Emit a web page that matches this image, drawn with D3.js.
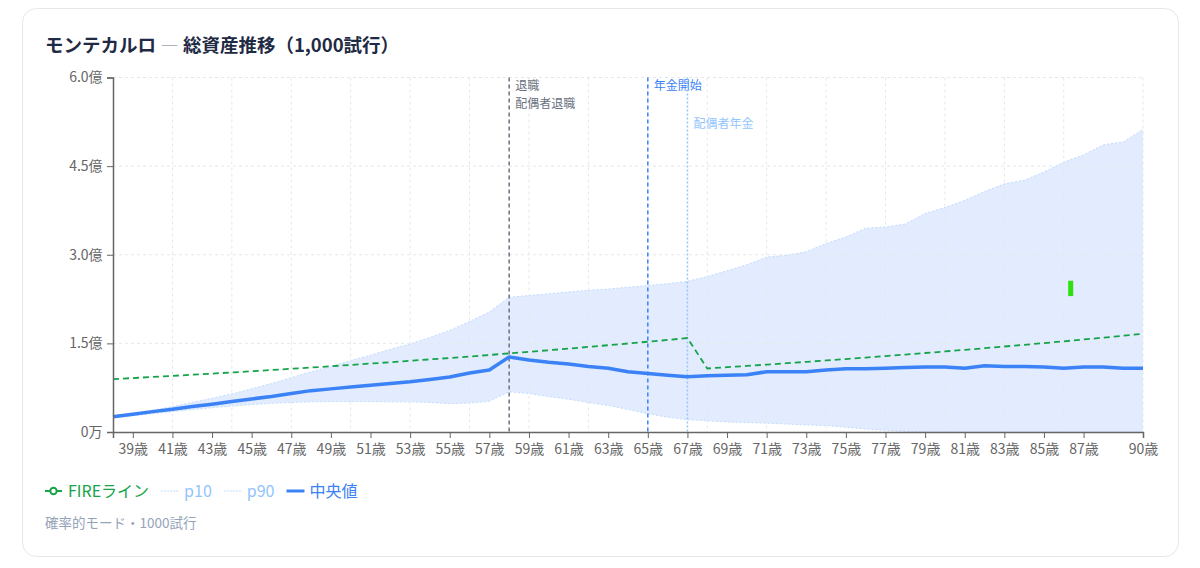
<!DOCTYPE html>
<html lang="ja">
<head>
  <meta charset="UTF-8">
  <title>モンテカルロ — 総資産推移</title>
  <script src="https://d3js.org/d3.v7.min.js"></script>
  <style>
    body
    {
      margin: 0;
      background: #ffffff;
      font-family: "Noto Sans CJK JP", "Noto Sans", sans-serif;
    }
    svg
    {
      display: block;
      font-family: "Noto Sans CJK JP", "Noto Sans", sans-serif;
    }
  </style>
</head>
<body>
  <svg id="chart" width="1200" height="568"></svg>
  <script>
    // ages (category axis)
    const ages = [38, 39, 40, 41, 42, 43, 44, 45, 46, 47, 48, 49, 50, 51, 52, 53, 54, 55,
      56, 57, 58, 59, 60, 61, 62, 63, 64, 65, 66, 67, 68, 69, 70, 71, 72, 73, 74, 75,
      76, 77, 78, 79, 80, 81, 82, 83, 84, 85, 86, 87, 88, 89, 90];

    // values in 億円
    const median = [0.26, 0.30, 0.345, 0.385, 0.43, 0.47, 0.515, 0.56, 0.60, 0.65, 0.70, 0.73,
      0.76, 0.79, 0.82, 0.85, 0.89, 0.93, 1.00, 1.05, 1.27, 1.22, 1.18, 1.15, 1.11, 1.08,
      1.02, 0.99, 0.96, 0.935, 0.95, 0.96, 0.97, 1.02, 1.02, 1.02, 1.05, 1.07, 1.07, 1.08,
      1.09, 1.10, 1.10, 1.08, 1.12, 1.11, 1.11, 1.10, 1.08, 1.10, 1.10, 1.08, 1.08];

    const p10 = [0.24, 0.275, 0.31, 0.345, 0.38, 0.41, 0.44, 0.465, 0.485, 0.50, 0.51, 0.515,
      0.515, 0.515, 0.51, 0.51, 0.50, 0.48, 0.49, 0.52, 0.68, 0.65, 0.60, 0.555, 0.50, 0.45,
      0.38, 0.31, 0.25, 0.21, 0.19, 0.17, 0.16, 0.15, 0.135, 0.12, 0.11, 0.08, 0.05, 0.03,
      0.01, 0, 0, 0, 0, 0, 0, 0, 0, 0, 0, 0, 0];

    const p90 = [0.28, 0.32, 0.37, 0.43, 0.50, 0.57, 0.645, 0.73, 0.82, 0.92, 1.02, 1.11,
      1.21, 1.30, 1.40, 1.49, 1.60, 1.72, 1.87, 2.03, 2.28, 2.31, 2.34, 2.37, 2.40, 2.42,
      2.45, 2.48, 2.51, 2.55, 2.63, 2.73, 2.83, 2.96, 2.99, 3.05, 3.19, 3.30, 3.45, 3.47,
      3.52, 3.70, 3.80, 3.92, 4.07, 4.20, 4.26, 4.40, 4.57, 4.69, 4.86, 4.91, 5.12];

    const fireLine = [0.895, 0.913, 0.931, 0.950, 0.969, 0.988, 1.008, 1.028, 1.049, 1.070,
      1.091, 1.113, 1.135, 1.158, 1.181, 1.205, 1.229, 1.253, 1.278, 1.304, 1.330, 1.357,
      1.384, 1.411, 1.440, 1.469, 1.498, 1.528, 1.558, 1.590, 1.075, 1.097, 1.118, 1.141,
      1.164, 1.187, 1.211, 1.235, 1.260, 1.285, 1.310, 1.337, 1.363, 1.391, 1.418, 1.447,
      1.476, 1.505, 1.535, 1.566, 1.597, 1.629, 1.662];

    const xTickAges = [39, 41, 43, 45, 47, 49, 51, 53, 55, 57, 59, 61, 63, 65, 67, 69, 71,
      73, 75, 77, 79, 81, 83, 85, 87, 90];
    const gridAges = [41, 44, 47, 50, 53, 56, 59, 62, 65, 68, 71, 74, 77, 80, 83, 86, 90];
    const yTicks = [0, 1.5, 3.0, 4.5, 6.0];
    const yTickLabels = ["0万", "1.5億", "3.0億", "4.5億", "6.0億"];

    const refLines = [
      { age: 58, labels: ["退職", "配偶者退職"], color: "#6b7280", dash: "4 3", dy: 0 },
      { age: 65, labels: ["年金開始"], color: "#3b82f6", dash: "4 3", dy: 0 },
      { age: 67, labels: ["配偶者年金"], color: "#93c5fd", dash: "2 2", dy: 38 }
    ];

    // stray green mark seen in the picture
    const stray = [{ age: 86.35, lo: 2.30, hi: 2.56 }];

    const legendItems = [
      { name: "FIREライン", color: "#16a34a", type: "fire" },
      { name: "p10", color: "#93c5fd", type: "dot" },
      { name: "p90", color: "#93c5fd", type: "dot" },
      { name: "中央値", color: "#3b82f6", type: "solid" }
    ];

    const rows = ages.map((a, i) => ({ age: a, median: median[i], p10: p10[i], p90: p90[i], fire: fireLine[i] }));

    const svg = d3.select("#chart");

    // card
    svg.append("rect")
      .attr("x", 22.5).attr("y", 8.5)
      .attr("width", 1156).attr("height", 548)
      .attr("rx", 14)
      .attr("fill", "#fff")
      .attr("stroke", "#e5e7eb");

    // title
    const title = svg.append("text")
      .attr("x", 45).attr("y", 52)
      .attr("font-size", 18.5).attr("font-weight", 700)
      .attr("fill", "#1f2a44");
    title.append("tspan").text("モンテカルロ ");
    title.append("tspan").attr("fill", "#9ca3af").attr("font-weight", 400).text("—");
    title.append("tspan").text(" 総資産推移（1,000試行）");

    const x = d3.scaleLinear().domain([38, 90]).range([113, 1143]);
    const y = d3.scaleLinear().domain([0, 6]).range([432, 77.5]);

    // grid
    const grid = svg.append("g").attr("stroke", "#e5e7eb").attr("stroke-dasharray", "3 3");
    grid.selectAll("line.h")
      .data(yTicks.slice(1))
      .join("line")
      .attr("class", "h")
      .attr("x1", x(38)).attr("x2", x(90))
      .attr("y1", d => y(d)).attr("y2", d => y(d));
    grid.selectAll("line.v")
      .data(gridAges)
      .join("line")
      .attr("class", "v")
      .attr("x1", d => x(d)).attr("x2", d => x(d))
      .attr("y1", y(6)).attr("y2", y(0));

    // band p10-p90
    const band = d3.area()
      .x(d => x(d.age))
      .y0(d => y(d.p10))
      .y1(d => y(d.p90));
    svg.append("path")
      .datum(rows)
      .attr("d", band)
      .attr("fill", "#3b82f6")
      .attr("fill-opacity", 0.15);

    ["p10", "p90"].forEach(k => {
      svg.append("path")
        .datum(rows)
        .attr("d", d3.line().x(d => x(d.age)).y(d => y(d[k])))
        .attr("fill", "none")
        .attr("stroke", "#bfdbfe")
        .attr("stroke-width", 1)
        .attr("stroke-dasharray", "2 2");
    });

    // grid shows through the band
    grid.raise();

    // reference lines
    refLines.forEach(r => {
      svg.append("line")
        .attr("x1", x(r.age)).attr("x2", x(r.age))
        .attr("y1", y(6)).attr("y2", y(0))
        .attr("stroke", r.color)
        .attr("stroke-width", 1.5)
        .attr("stroke-dasharray", r.dash);
      r.labels.forEach((t, i) => {
        svg.append("text")
          .attr("x", x(r.age) + 6)
          .attr("y", 90 + r.dy + i * 17.5)
          .attr("font-size", 12)
          .attr("fill", r.color)
          .text(t);
      });
    });

    // FIRE line
    svg.append("path")
      .datum(rows)
      .attr("d", d3.line().x(d => x(d.age)).y(d => y(d.fire)))
      .attr("fill", "none")
      .attr("stroke", "#16a34a")
      .attr("stroke-width", 1.8)
      .attr("stroke-dasharray", "6 4");

    // median
    svg.append("path")
      .datum(rows)
      .attr("d", d3.line().x(d => x(d.age)).y(d => y(d.median)))
      .attr("fill", "none")
      .attr("stroke", "#3b82f6")
      .attr("stroke-width", 3.5)
      .attr("stroke-linejoin", "round");

    svg.selectAll("rect.stray")
      .data(stray)
      .join("rect")
      .attr("class", "stray")
      .attr("x", d => x(d.age) - 2.5)
      .attr("width", 5)
      .attr("y", d => y(d.hi))
      .attr("height", d => y(d.lo) - y(d.hi))
      .attr("fill", "#2ee00f");

    // axes
    const xAxis = svg.append("g")
      .attr("transform", `translate(0,${y(0)})`)
      .call(d3.axisBottom(x).tickValues(xTickAges).tickFormat(d => d + "歳").tickSizeOuter(0).tickSize(6));
    const yAxis = svg.append("g")
      .attr("transform", `translate(${x(38)},0)`)
      .call(d3.axisLeft(y).tickValues(yTicks).tickFormat((d, i) => yTickLabels[i]).tickSizeOuter(0).tickSize(6));

    [xAxis, yAxis].forEach(g => {
      g.select(".domain").attr("stroke", "#666").attr("stroke-width", 1.5);
      g.selectAll(".tick line").attr("stroke", "#666");
      g.selectAll(".tick text")
        .attr("fill", "#666")
        .attr("font-size", 14)
        .attr("font-family", "'Noto Sans CJK JP', sans-serif");
    });
    xAxis.selectAll(".tick text").attr("dy", "0.9em");
    yAxis.selectAll(".tick text").attr("dx", "-0.1em");

    // legend
    let lx = 45;
    const ly = 491;
    legendItems.forEach(item => {
      const g = svg.append("g");
      if (item.type === "fire") {
        g.append("line").attr("x1", lx).attr("x2", lx + 17).attr("y1", ly).attr("y2", ly)
          .attr("stroke", item.color).attr("stroke-width", 2);
        g.append("circle").attr("cx", lx + 8.5).attr("cy", ly).attr("r", 3.2)
          .attr("fill", "#fff").attr("stroke", item.color).attr("stroke-width", 2);
      } else if (item.type === "dot") {
        g.append("line").attr("x1", lx).attr("x2", lx + 18).attr("y1", ly).attr("y2", ly)
          .attr("stroke", "#bfdbfe").attr("stroke-width", 1.2).attr("stroke-dasharray", "2 1");
      } else {
        g.append("line").attr("x1", lx).attr("x2", lx + 18).attr("y1", ly).attr("y2", ly)
          .attr("stroke", item.color).attr("stroke-width", 3);
      }
      const t = g.append("text")
        .attr("x", lx + 23).attr("y", ly + 5.5)
        .attr("font-size", 16)
        .attr("fill", item.color)
        .text(item.name);
      lx += 23 + t.node().getComputedTextLength() + 12;
    });

    svg.append("text")
      .attr("x", 45).attr("y", 528)
      .attr("font-size", 13.5)
      .attr("fill", "#94a3b8")
      .text("確率的モード・1000試行");
  </script>
</body>
</html>
